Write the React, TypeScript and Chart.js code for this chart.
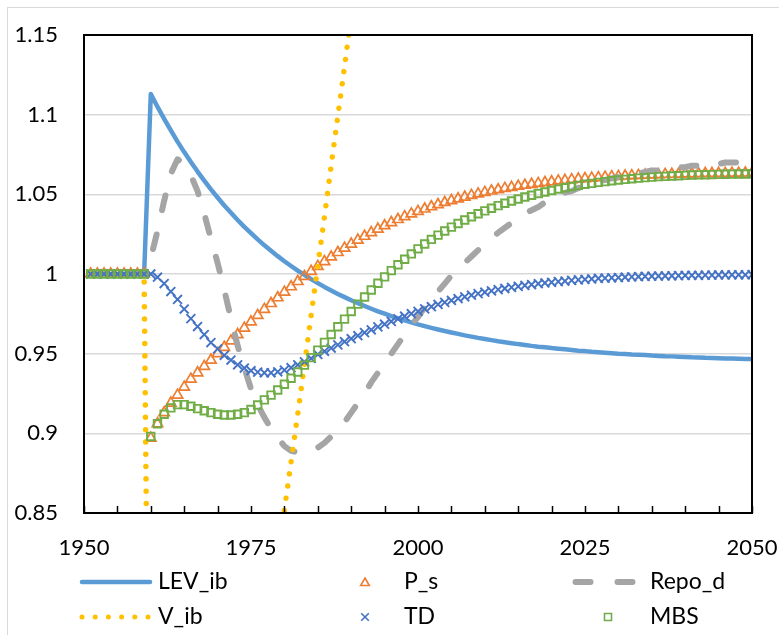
import React, { useEffect, useRef } from 'react';
import { Chart, registerables } from 'chart.js';

Chart.register(...registerables);

// Categories: simulation years 1951..2050 (one point per year)
const YEARS: number[] = Array.from({ length: 100 }, (_, i) => 1951 + i);
const X_LABELS: number[] = [1950, 1975, 2000, 2025, 2050];

const LEV_ib: number[] = [
  1, 1, 1, 1, 1, 1, 1, 1, 1,
  1.1130, 1.1050, 1.0974, 1.0901, 1.0831, 1.0765, 1.0703, 1.0643, 1.0586, 1.0531,
  1.0480, 1.0430, 1.0384, 1.0339, 1.0296, 1.0256, 1.0217, 1.0180, 1.0146, 1.0112,
  1.0080, 1.0050, 1.0021, 0.9994, 0.9968, 0.9943, 0.9919, 0.9897, 0.9875, 0.9855,
  0.9835, 0.9817, 0.9799, 0.9782, 0.9766, 0.9751, 0.9736, 0.9722, 0.9709, 0.9696,
  0.9684, 0.9673, 0.9662, 0.9652, 0.9642, 0.9633, 0.9624, 0.9615, 0.9607, 0.9599,
  0.9592, 0.9585, 0.9578, 0.9572, 0.9566, 0.9560, 0.9555, 0.9549, 0.9544, 0.9540,
  0.9535, 0.9531, 0.9527, 0.9523, 0.9519, 0.9516, 0.9512, 0.9509, 0.9506, 0.9503,
  0.9500, 0.9498, 0.9495, 0.9493, 0.9491, 0.9488, 0.9486, 0.9484, 0.9483, 0.9481,
  0.9479, 0.9477, 0.9476, 0.9474, 0.9473, 0.9472, 0.9470, 0.9469, 0.9468, 0.9467,
  0.9466,
];

// V_ib leaves the visible range (below 0.85 in 1961-1978, above 1.15 after 1991)
const V_ib: (number | null)[] = [
  1, 1, 1, 1, 1, 1, 1, 1, 1,
  0.55, null, null, null, null, null, null, null, null, null,
  null, null, null, null, null, null, null, null, null, 0.821,
  0.852, 0.882, 0.912, 0.943, 0.974, 1.005, 1.036, 1.068, 1.099, 1.130,
  1.162, 1.194, null, null, null, null, null, null, null, null,
  null, null, null, null, null, null, null, null, null, null,
  null, null, null, null, null, null, null, null, null, null,
  null, null, null, null, null, null, null, null, null, null,
  null, null, null, null, null, null, null, null, null, null,
  null, null, null, null, null, null, null, null, null, null,
  null,
];

const P_s: number[] = [
  1, 1, 1, 1, 1, 1, 1, 1, 1,
  0.8970, 0.9060, 0.9130, 0.9190, 0.9240, 0.9290, 0.9340, 0.9380, 0.9420, 0.9460,
  0.9500, 0.9540, 0.9580, 0.9620, 0.9660, 0.9700, 0.9740, 0.9778, 0.9815, 0.9851,
  0.9886, 0.9920, 0.9953, 0.9985, 1.0017, 1.0048, 1.0078, 1.0107, 1.0135, 1.0162,
  1.0188, 1.0213, 1.0237, 1.0260, 1.0282, 1.0303, 1.0323, 1.0342, 1.0360, 1.0377,
  1.0393, 1.0408, 1.0422, 1.0436, 1.0449, 1.0461, 1.0472, 1.0483, 1.0493, 1.0503,
  1.0512, 1.0521, 1.0529, 1.0537, 1.0544, 1.0551, 1.0557, 1.0563, 1.0569, 1.0574,
  1.0579, 1.0584, 1.0588, 1.0592, 1.0596, 1.0599, 1.0602, 1.0605, 1.0608, 1.0611,
  1.0613, 1.0615, 1.0617, 1.0619, 1.0621, 1.0622, 1.0624, 1.0625, 1.0626, 1.0627,
  1.0628, 1.0629, 1.0630, 1.0631, 1.0631, 1.0632, 1.0632, 1.0633, 1.0633, 1.0634,
  1.0634,
];

const TD: number[] = [
  1, 1, 1, 1, 1, 1, 1, 1, 1,
  1.0000, 0.9980, 0.9940, 0.9890, 0.9840, 0.9780, 0.9720, 0.9670, 0.9620, 0.9570,
  0.9530, 0.9490, 0.9460, 0.9430, 0.9410, 0.9393, 0.9384, 0.9380, 0.9380, 0.9386,
  0.9397, 0.9412, 0.9430, 0.9449, 0.9470, 0.9495, 0.9515, 0.9535, 0.9555, 0.9575,
  0.9594, 0.9613, 0.9632, 0.9650, 0.9668, 0.9685, 0.9702, 0.9719, 0.9735, 0.9751,
  0.9766, 0.9781, 0.9795, 0.9809, 0.9822, 0.9834, 0.9846, 0.9857, 0.9867, 0.9877,
  0.9886, 0.9894, 0.9902, 0.9909, 0.9916, 0.9922, 0.9928, 0.9934, 0.9939, 0.9944,
  0.9948, 0.9952, 0.9956, 0.9960, 0.9963, 0.9966, 0.9969, 0.9972, 0.9974, 0.9976,
  0.9978, 0.9980, 0.9982, 0.9983, 0.9985, 0.9986, 0.9987, 0.9988, 0.9989, 0.9990,
  0.9991, 0.9992, 0.9992, 0.9993, 0.9993, 0.9994, 0.9994, 0.9995, 0.9995, 0.9995,
  0.9996,
];

const Repo_d: number[] = [
  1, 1, 1, 1, 1, 1, 1, 1, 1,
  1.010, 1.027, 1.046, 1.063, 1.072, 1.069, 1.062, 1.052, 1.038, 1.022,
  1.007, 0.990, 0.972, 0.955, 0.941, 0.928, 0.918, 0.910, 0.903, 0.897,
  0.892, 0.889, 0.888, 0.888, 0.889, 0.891, 0.894, 0.898, 0.902, 0.907,
  0.913, 0.919, 0.925, 0.932, 0.938, 0.944, 0.950, 0.956, 0.962, 0.968,
  0.973, 0.979, 0.984, 0.989, 0.994, 0.999, 1.003, 1.007, 1.011, 1.015,
  1.019, 1.022, 1.026, 1.029, 1.032, 1.035, 1.038, 1.040, 1.042, 1.045,
  1.047, 1.049, 1.051, 1.052, 1.054, 1.055, 1.057, 1.058, 1.059, 1.060,
  1.061, 1.062, 1.063, 1.063, 1.064, 1.065, 1.065, 1.066, 1.066, 1.067,
  1.067, 1.068, 1.068, 1.069, 1.069, 1.069, 1.070, 1.070, 1.070, 1.070,
  1.071,
];

const MBS: number[] = [
  1, 1, 1, 1, 1, 1, 1, 1, 1,
  0.8980, 0.9060, 0.9120, 0.9160, 0.9180, 0.9180, 0.9170, 0.9155, 0.9142, 0.9130,
  0.9120, 0.9115, 0.9115, 0.9120, 0.9130, 0.9150, 0.9178, 0.9210, 0.9240, 0.9272,
  0.9308, 0.9346, 0.9385, 0.9428, 0.9475, 0.9522, 0.9571, 0.9620, 0.9669, 0.9717,
  0.9765, 0.9811, 0.9856, 0.9900, 0.9942, 0.9982, 1.0021, 1.0058, 1.0093, 1.0126,
  1.0158, 1.0188, 1.0217, 1.0244, 1.0270, 1.0294, 1.0317, 1.0339, 1.0359, 1.0378,
  1.0396, 1.0413, 1.0429, 1.0444, 1.0458, 1.0471, 1.0483, 1.0494, 1.0505, 1.0515,
  1.0524, 1.0533, 1.0541, 1.0549, 1.0556, 1.0563, 1.0569, 1.0575, 1.0580, 1.0585,
  1.0590, 1.0594, 1.0598, 1.0602, 1.0605, 1.0608, 1.0611, 1.0613, 1.0615, 1.0617,
  1.0619, 1.0621, 1.0622, 1.0623, 1.0624, 1.0625, 1.0626, 1.0627, 1.0628, 1.0628,
  1.0629,
];

const FONT = 'Lato';
const C_LEV = '#5B9BD5';
const C_VIB = '#FFC000';
const C_PS = '#ED7D31';
const C_TD = '#4472C4';
const C_REPO = '#A5A5A5';
const C_MBS = '#70AD47';

const toXY = (vals: (number | null)[]) => YEARS.map((yr, i) => ({ x: yr, y: vals[i] }));

function drawMarker(ctx: CanvasRenderingContext2D, kind: string, x: number, y: number, color: string) {
  ctx.save();
  ctx.strokeStyle = color;
  ctx.lineWidth = 1.6;
  ctx.setLineDash([]);
  ctx.beginPath();
  if (kind === 'triangle') {
    const r = 5;
    for (let k = 0; k < 3; k++) {
      const a = (k * 2 * Math.PI) / 3;
      const px = x + Math.sin(a) * r;
      const py = y - Math.cos(a) * r + 1;
      if (k === 0) ctx.moveTo(px, py); else ctx.lineTo(px, py);
    }
    ctx.closePath();
  } else if (kind === 'cross') {
    const h = 3.8;
    ctx.moveTo(x - h, y - h); ctx.lineTo(x + h, y + h);
    ctx.moveTo(x + h, y - h); ctx.lineTo(x - h, y + h);
  } else {
    const h = 3.5;
    ctx.rect(x - h, y - h, 2 * h, 2 * h);
  }
  ctx.stroke();
  ctx.restore();
}

const framePlugin = {
  id: 'excelFrame',
  beforeDraw(chart: any) {
    const ctx: CanvasRenderingContext2D = chart.ctx;
    ctx.save();
    ctx.fillStyle = '#ffffff';
    ctx.fillRect(0, 0, chart.width, chart.height);
    ctx.strokeStyle = '#d9d9d9';
    ctx.lineWidth = 1;
    ctx.strokeRect(7.5, 7.5, chart.width + 100, chart.height + 100);
    ctx.restore();
  },
  afterDraw(chart: any) {
    const ctx: CanvasRenderingContext2D = chart.ctx;
    const a = chart.chartArea;
    const xs = chart.scales.x;
    ctx.save();
    // inward tick marks on the category axis
    ctx.strokeStyle = '#000';
    ctx.lineWidth = 1.5;
    xs.ticks.forEach((t: any) => {
      const px = Math.round(xs.getPixelForValue(t.value)) + 0.5;
      ctx.beginPath();
      ctx.moveTo(px, a.bottom);
      ctx.lineTo(px, a.bottom - 7);
      ctx.stroke();
    });
    // plot frame
    ctx.lineWidth = 2;
    ctx.strokeRect(a.left, a.top, a.right - a.left, a.bottom - a.top);

    // legend (3 columns x 2 rows)
    const rowY = [582, 617];
    ctx.font = `23px ${FONT}`;
    ctx.fillStyle = '#000';
    ctx.textBaseline = 'middle';
    ctx.textAlign = 'left';

    ctx.save();
    ctx.strokeStyle = C_LEV; ctx.lineWidth = 4.5; ctx.lineCap = 'round';
    ctx.beginPath(); ctx.moveTo(82, rowY[0]); ctx.lineTo(150, rowY[0]); ctx.stroke();
    ctx.restore();
    ctx.fillText('LEV_ib', 158, rowY[0]);

    ctx.save();
    ctx.strokeStyle = C_VIB; ctx.lineWidth = 5; ctx.lineCap = 'round';
    ctx.setLineDash([0.001, 13.2]);
    ctx.beginPath(); ctx.moveTo(82, rowY[1]); ctx.lineTo(149, rowY[1]); ctx.stroke();
    ctx.restore();
    ctx.fillText('V_ib', 158, rowY[1]);

    drawMarker(ctx, 'triangle', 365, rowY[0], C_PS);
    ctx.fillText('P_s', 404, rowY[0]);
    drawMarker(ctx, 'cross', 365, rowY[1], C_TD);
    ctx.fillText('TD', 404, rowY[1]);

    ctx.save();
    ctx.strokeStyle = C_REPO; ctx.lineWidth = 6; ctx.lineCap = 'round';
    ctx.setLineDash([15, 27]);
    ctx.beginPath(); ctx.moveTo(575.5, rowY[0]); ctx.lineTo(634, rowY[0]); ctx.stroke();
    ctx.restore();
    ctx.fillText('Repo_d', 650, rowY[0]);
    drawMarker(ctx, 'rect', 608, rowY[1], C_MBS);
    ctx.fillText('MBS', 650, rowY[1]);
    ctx.restore();
  },
};

export default function App() {
  const ref = useRef<HTMLCanvasElement | null>(null);

  useEffect(() => {
    if (!ref.current) return;
    const chart = new Chart(ref.current, {
      type: 'line',
      data: {
        datasets: [
          {
            label: 'LEV_ib', data: toXY(LEV_ib), borderColor: C_LEV, borderWidth: 4.5,
            pointRadius: 0, tension: 0, borderJoinStyle: 'round', borderCapStyle: 'round', order: 6,
          },
          {
            label: 'P_s', data: toXY(P_s), borderColor: C_PS, showLine: false,
            pointStyle: 'triangle', pointRadius: 6, pointBorderWidth: 1.7,
            pointBackgroundColor: 'rgba(0,0,0,0)', pointBorderColor: C_PS, order: 5,
          },
          {
            label: 'Repo_d', data: toXY(Repo_d), borderColor: C_REPO, borderWidth: 6,
            borderDash: [15, 25], borderCapStyle: 'round', borderJoinStyle: 'round',
            pointRadius: 0, tension: 0, order: 4,
          },
          {
            label: 'V_ib', data: toXY(V_ib), borderColor: C_VIB, borderWidth: 5.5,
            borderDash: [0.001, 12.3], borderCapStyle: 'round', pointRadius: 0,
            tension: 0, spanGaps: false, order: 3,
          },
          {
            label: 'TD', data: toXY(TD), borderColor: C_TD, showLine: false,
            pointStyle: 'crossRot', pointRadius: 6.3, pointBorderWidth: 1.9,
            pointBorderColor: C_TD, order: 2,
          },
          {
            label: 'MBS', data: toXY(MBS), borderColor: C_MBS, showLine: false,
            pointStyle: 'rect', pointRadius: 5.3, pointBorderWidth: 1.9,
            pointBackgroundColor: 'rgba(0,0,0,0)', pointBorderColor: C_MBS, order: 1,
          },
        ] as any,
      },
      options: {
        animation: false,
        responsive: false,
        devicePixelRatio: 1,
        events: [],
        layout: { padding: { top: 35, right: 27, bottom: 72, left: 0 } },
        plugins: { legend: { display: false }, tooltip: { enabled: false }, title: { display: false } },
        scales: {
          x: {
            type: 'linear',
            min: 1950,
            max: 2050,
            grid: { display: false, drawTicks: false },
            border: { display: false },
            ticks: {
              stepSize: 5,
              autoSkip: false,
              maxRotation: 0,
              padding: 22,
              color: '#000',
              font: { family: FONT, size: 22 },
              callback: (v: any) => (X_LABELS.includes(Number(v)) ? String(v) : ''),
            },
            afterFit: (s: any) => { s.height = 50; s.paddingLeft = 0; s.paddingRight = 0; },
          },
          y: {
            min: 0.85,
            max: 1.15,
            grid: { color: '#d9d9d9', lineWidth: 1.5, drawTicks: false },
            border: { display: false },
            ticks: {
              stepSize: 0.05,
              padding: 26,
              color: '#000',
              font: { family: FONT, size: 22 },
              callback: (v: any) => String(Number(Number(v).toFixed(2))),
            },
            afterFit: (s: any) => { s.width = 84; s.paddingTop = 0; s.paddingBottom = 0; },
          },
        },
      },
      plugins: [framePlugin],
    });
    return () => chart.destroy();
  }, []);

  return (
    <div style={{ position: 'fixed', left: 0, top: 0, width: 779, height: 635, background: '#fff' }}>
      <canvas ref={ref} width={779} height={635} style={{ display: 'block', width: 779, height: 635 }} />
    </div>
  );
}
